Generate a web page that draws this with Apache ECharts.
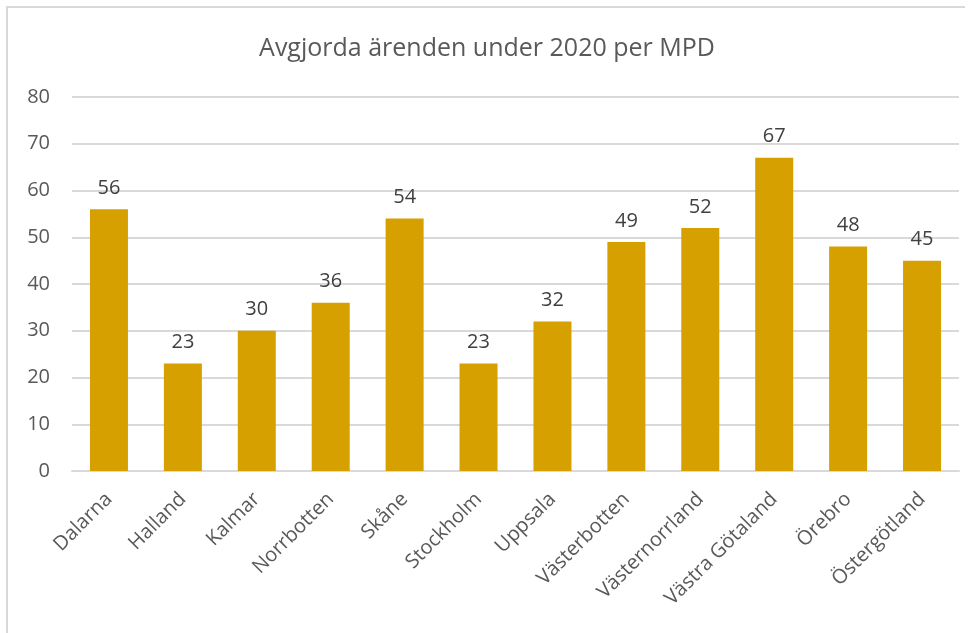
<!DOCTYPE html>
<html>
<head>
<meta charset="utf-8">
<script src="https://cdn.jsdelivr.net/npm/echarts@6/dist/echarts.min.js"></script>
<style>
  html, body { margin: 0; padding: 0; background: #fff; }
  #chart { width: 974px; height: 633px; }
</style>
</head>
<body>
<div id="chart"></div>
<script>
// regions (MPD) and number of decided cases in 2020
const regions = ['Dalarna', 'Halland', 'Kalmar', 'Norrbotten', 'Skåne', 'Stockholm', 'Uppsala',
  'Västerbotten', 'Västernorrland', 'Västra Götaland', 'Örebro', 'Östergötland'];
const avgjorda = [56, 23, 30, 36, 54, 23, 32, 49, 52, 67, 48, 45];
const chartTitle = 'Avgjorda ärenden under 2020 per MPD';

const chart = echarts.init(document.getElementById('chart'));

const option = {
  backgroundColor: '#fff',
  animation: false,
  textStyle: { fontFamily: 'Open Sans' },
  title: {
    text: chartTitle,
    left: 'center',
    top: 31,
    textStyle: { fontSize: 25, fontWeight: 'normal', color: '#595959', fontFamily: 'Open Sans' }
  },
  graphic: [{
    type: 'polyline',
    shape: { points: [[7, 640], [7, 7], [965, 7]] },
    style: { stroke: '#d9d9d9', lineWidth: 2, fill: null },
    silent: true
  }],
  grid: { left: 72, right: 15, top: 97, bottom: 162 },
  xAxis: {
    type: 'category',
    data: regions,
    axisLine: { lineStyle: { color: '#d9d9d9', width: 2 } },
    axisTick: { show: false },
    axisLabel: {
      rotate: 45,
      margin: 25,
      fontSize: 20,
      color: '#595959',
      interval: 0
    }
  },
  yAxis: {
    type: 'value',
    min: 0,
    max: 80,
    interval: 10,
    axisLine: { show: false },
    axisTick: { show: false },
    axisLabel: { fontSize: 20, color: '#595959', margin: 22 },
    splitLine: { lineStyle: { color: '#d9d9d9', width: 2 } }
  },
  series: [{
    type: 'bar',
    data: avgjorda,
    barWidth: 38,
    itemStyle: { color: '#d5a000' },
    label: {
      show: true,
      position: 'top',
      distance: 11,
      fontSize: 20,
      color: '#404040'
    }
  }]
};

chart.setOption(option);
</script>
</body>
</html>
